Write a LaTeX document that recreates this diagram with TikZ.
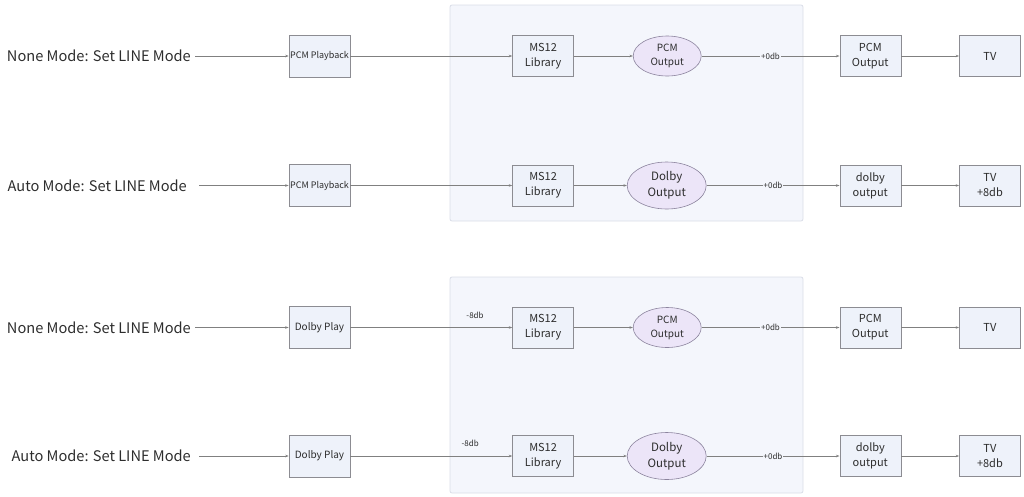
\documentclass[tikz,border=0pt]{standalone}
\usepackage{fontspec}
\setmainfont{Noto Sans CJK SC}
\usepackage{tikz}
\usetikzlibrary{arrows.meta,positioning,shapes.geometric}
\definecolor{boxfill}{RGB}{238,242,250}
\definecolor{boxline}{RGB}{140,140,146}
\definecolor{ovalfill}{RGB}{236,229,248}
\definecolor{ovalline}{RGB}{140,132,158}
\definecolor{panelfill}{RGB}{244,246,252}
\definecolor{panelline}{RGB}{218,222,232}
\definecolor{wire}{RGB}{128,128,128}
\definecolor{ink}{RGB}{45,45,45}

\begin{document}
\begin{tikzpicture}[x=1pt, y=-1pt,
		every node/.style={text=ink},
		lbl/.style={anchor=east, inner sep=0pt, font=\fontsize{14.6}{18}\selectfont},
		blk/.style={rectangle, draw=boxline, fill=boxfill, line width=0.6pt, minimum width=61pt, minimum height=41pt, inner sep=0pt, align=center, font=\fontsize{11}{15}\selectfont},
		src/.style={blk, minimum height=42pt, font=\fontsize{9}{10}\selectfont},
		pcm/.style={ellipse, draw=ovalline, fill=ovalfill, line width=0.6pt, minimum width=68pt, minimum height=40pt, inner sep=0pt, align=center, font=\fontsize{10}{14}\selectfont},
		dolby/.style={pcm, minimum width=79pt, minimum height=47pt, font=\fontsize{11.5}{16}\selectfont},
		gain/.style={fill=panelfill, inner sep=1pt, font=\fontsize{8}{9}\selectfont},
		flow/.style={draw=wire, line width=0.6pt, -{Stealth[length=3.5pt, width=2.5pt]}},
		panel/.style={draw=panelline, fill=panelfill, line width=0.8pt, rounded corners=2pt}]
		\centering
		
		\useasboundingbox (0,0) rectangle (1024,496);
		\draw [panel] (450,5) rectangle (803,221);
		\draw [panel] (450,277) rectangle (803,493);
		
		% PCM playback, none mode
		\node [lbl] (m1) at (191,56) {None Mode: Set LINE Mode};
		\node [src] (in1) at (319.5,56) {PCM Playback};
		\node [blk, right=162pt of in1] (ms1) {MS12\\Library};
		\node [pcm, right=59pt of ms1] (po1) {PCM\\Output};
		\node [blk, right=138pt of po1] (ob1) {PCM\\Output};
		\node [blk, right=58pt of ob1] (tv1) {TV};
		
		% PCM playback, auto mode
		\node [lbl] (m2) at (187,185.5) {Auto Mode: Set LINE Mode};
		\node [src] (in2) at (319.5,185.5) {PCM Playback};
		\node [blk, right=162pt of in2] (ms2) {MS12\\Library};
		\node [dolby, right=53pt of ms2] (po2) {Dolby\\Output};
		\node [blk, right=133pt of po2] (ob2) {dolby\\output};
		\node [blk, right=58pt of ob2] (tv2) {TV\\+8db};
		
		% Dolby play, none mode
		\node [lbl] (m3) at (191,327.5) {None Mode: Set LINE Mode};
		\node [src, font=\fontsize{10}{12}\selectfont] (in3) at (319.5,327.5) {Dolby Play};
		\node [blk, right=162pt of in3] (ms3) {MS12\\Library};
		\node [pcm, right=59pt of ms3] (po3) {PCM\\Output};
		\node [blk, right=138pt of po3] (ob3) {PCM\\Output};
		\node [blk, right=58pt of ob3] (tv3) {TV};
		
		% Dolby play, auto mode
		\node [lbl] (m4) at (191,456) {Auto Mode: Set LINE Mode};
		\node [src, font=\fontsize{10}{12}\selectfont] (in4) at (319.5,456) {Dolby Play};
		\node [blk, right=162pt of in4] (ms4) {MS12\\Library};
		\node [dolby, right=53pt of ms4] (po4) {Dolby\\Output};
		\node [blk, right=133pt of po4] (ob4) {dolby\\output};
		\node [blk, right=58pt of ob4] (tv4) {TV\\+8db};
		
		\draw [flow, shorten <=4pt] (m1) -- (in1);
		\draw [flow] (in1) -- (ms1);
		\draw [flow] (ms1) -- (po1);
		\draw [flow] (po1) -- node [gain] {+0db} (ob1);
		\draw [flow] (ob1) -- (tv1);
		
		\draw [flow, shorten <=12pt] (m2) -- (in2);
		\draw [flow] (in2) -- (ms2);
		\draw [flow] (ms2) -- (po2);
		\draw [flow] (po2) -- node [gain] {+0db} (ob2);
		\draw [flow] (ob2) -- (tv2);
		
		\draw [flow, shorten <=4pt] (m3) -- (in3);
		\draw [flow] (in3) -- node [gain, pos=0.77, above=8pt, fill=none] {-8db} (ms3);
		\draw [flow] (ms3) -- (po3);
		\draw [flow] (po3) -- node [gain] {+0db} (ob3);
		\draw [flow] (ob3) -- (tv3);
		
		\draw [flow, shorten <=8pt] (m4) -- (in4);
		\draw [flow] (in4) -- node [gain, pos=0.74, above=8pt, fill=none] {-8db} (ms4);
		\draw [flow] (ms4) -- (po4);
		\draw [flow] (po4) -- node [gain] {+0db} (ob4);
		\draw [flow] (ob4) -- (tv4);
		
	\end{tikzpicture}
\end{document}
